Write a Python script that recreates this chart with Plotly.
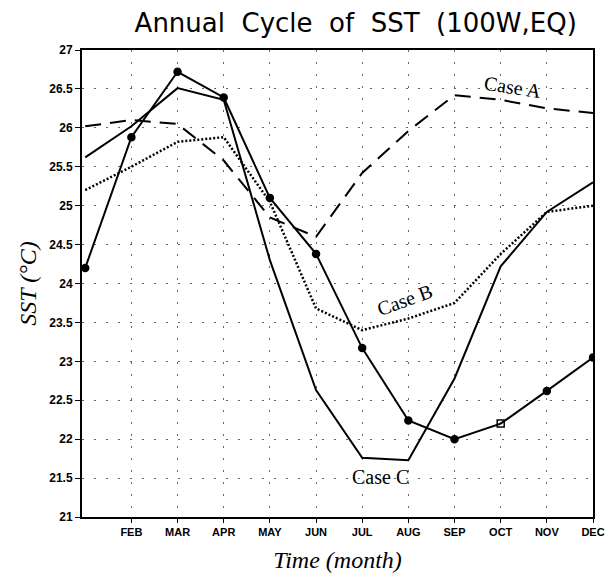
import plotly.graph_objects as go

months = [1, 2, 3, 4, 5, 6, 7, 8, 9, 10, 11, 12]
tick_vals = [2, 3, 4, 5, 6, 7, 8, 9, 10, 11, 12]
tick_text = ["FEB", "MAR", "APR", "MAY", "JUN", "JUL", "AUG", "SEP", "OCT", "NOV", "DEC"]
y_ticks = [21, 21.5, 22, 22.5, 23, 23.5, 24, 24.5, 25, 25.5, 26, 26.5, 27]
y_tick_text = ["21", "21.5", "22", "22.5", "23", "23.5", "24", "24.5", "25", "25.5", "26", "26.5", "27"]

obs = [24.2, 25.88, 26.72, 26.39, 25.1, 24.38, 23.17, 22.24, 22.0, 22.2, 22.62, 23.05]
case_a = [26.02, 26.1, 26.05, 25.58, 24.85, 24.6, 25.42, 25.96, 26.42, 26.36, 26.25, 26.19]
case_b = [25.2, 25.5, 25.82, 25.88, 25.05, 23.68, 23.4, 23.55, 23.75, 24.38, 24.92, 25.0]
case_c = [25.62, 26.02, 26.51, 26.36, 24.3, 22.63, 21.76, 21.73, 22.78, 24.22, 24.92, 25.3]

obs_symbols = ["circle"] * 9 + ["square-open"] + ["circle"] * 2

fig = go.Figure()
fig.add_trace(go.Scatter(x=months, y=case_a, mode="lines",
                         line=dict(color="black", width=2, dash="16px,9px")))
fig.add_trace(go.Scatter(x=months, y=case_b, mode="lines",
                         line=dict(color="black", width=2.5, dash="2px,2px")))
fig.add_trace(go.Scatter(x=months, y=case_c, mode="lines",
                         line=dict(color="black", width=2)))
fig.add_trace(go.Scatter(x=months, y=obs, mode="lines+markers",
                         line=dict(color="black", width=2),
                         marker=dict(color="black", size=7, symbol=obs_symbols,
                                     line=dict(color="black", width=1.5))))

serif = "Liberation Serif, DejaVu Serif, serif"
fig.add_annotation(x=10.26, y=26.52, text="Case A", showarrow=False,
                   textangle=9, font=dict(family=serif, size=20, color="black"))
fig.add_annotation(x=7.92, y=23.79, text="Case B", showarrow=False,
                   textangle=-20, font=dict(family=serif, size=20, color="black"))
fig.add_annotation(x=7.4, y=21.51, text="Case C", showarrow=False,
                   font=dict(family=serif, size=20, color="black"))

grid_style = dict(showgrid=True, gridcolor="#666666", gridwidth=1, griddash="2px,10px")

sp = "\u00a0\u00a0"
fig.update_layout(
    width=605, height=582,
    margin=dict(l=82, r=12, t=50, b=65, autoexpand=False),
    paper_bgcolor="white", plot_bgcolor="white",
    showlegend=False,
    title=dict(text=f"Annual{sp}Cycle{sp}of{sp}SST{sp}(100W,EQ)", x=0.588, xanchor="center",
               y=0.976, yanchor="top",
               font=dict(family="DejaVu Sans, sans-serif", size=26, color="black")),
    xaxis=dict(range=[0.93, 12], tickvals=tick_vals, ticktext=tick_text,
               ticks="outside", ticklen=4, tickcolor="black",
               showline=True, linecolor="black", linewidth=2, mirror=True,
               zeroline=False, automargin=False,
               tickfont=dict(family="Liberation Sans Narrow, Liberation Sans, Arial", size=11,
                             color="black", weight="bold"),
               title=dict(text="<i>Time (month)</i>", standoff=14,
                          font=dict(family=serif, size=24, color="black")),
               **grid_style),
    yaxis=dict(range=[21, 27], tickvals=y_ticks, ticktext=y_tick_text,
               ticks="outside", ticklen=5, tickcolor="black",
               showline=True, linecolor="black", linewidth=2, mirror=True,
               zeroline=False, automargin=False,
               tickfont=dict(family="Liberation Sans, Arial", size=12, color="black",
                             weight="bold"),
               title=dict(text="<i>SST (°C)</i>", standoff=6,
                          font=dict(family=serif, size=24, color="black")),
               **grid_style),
)

fig.write_html("out.html")
